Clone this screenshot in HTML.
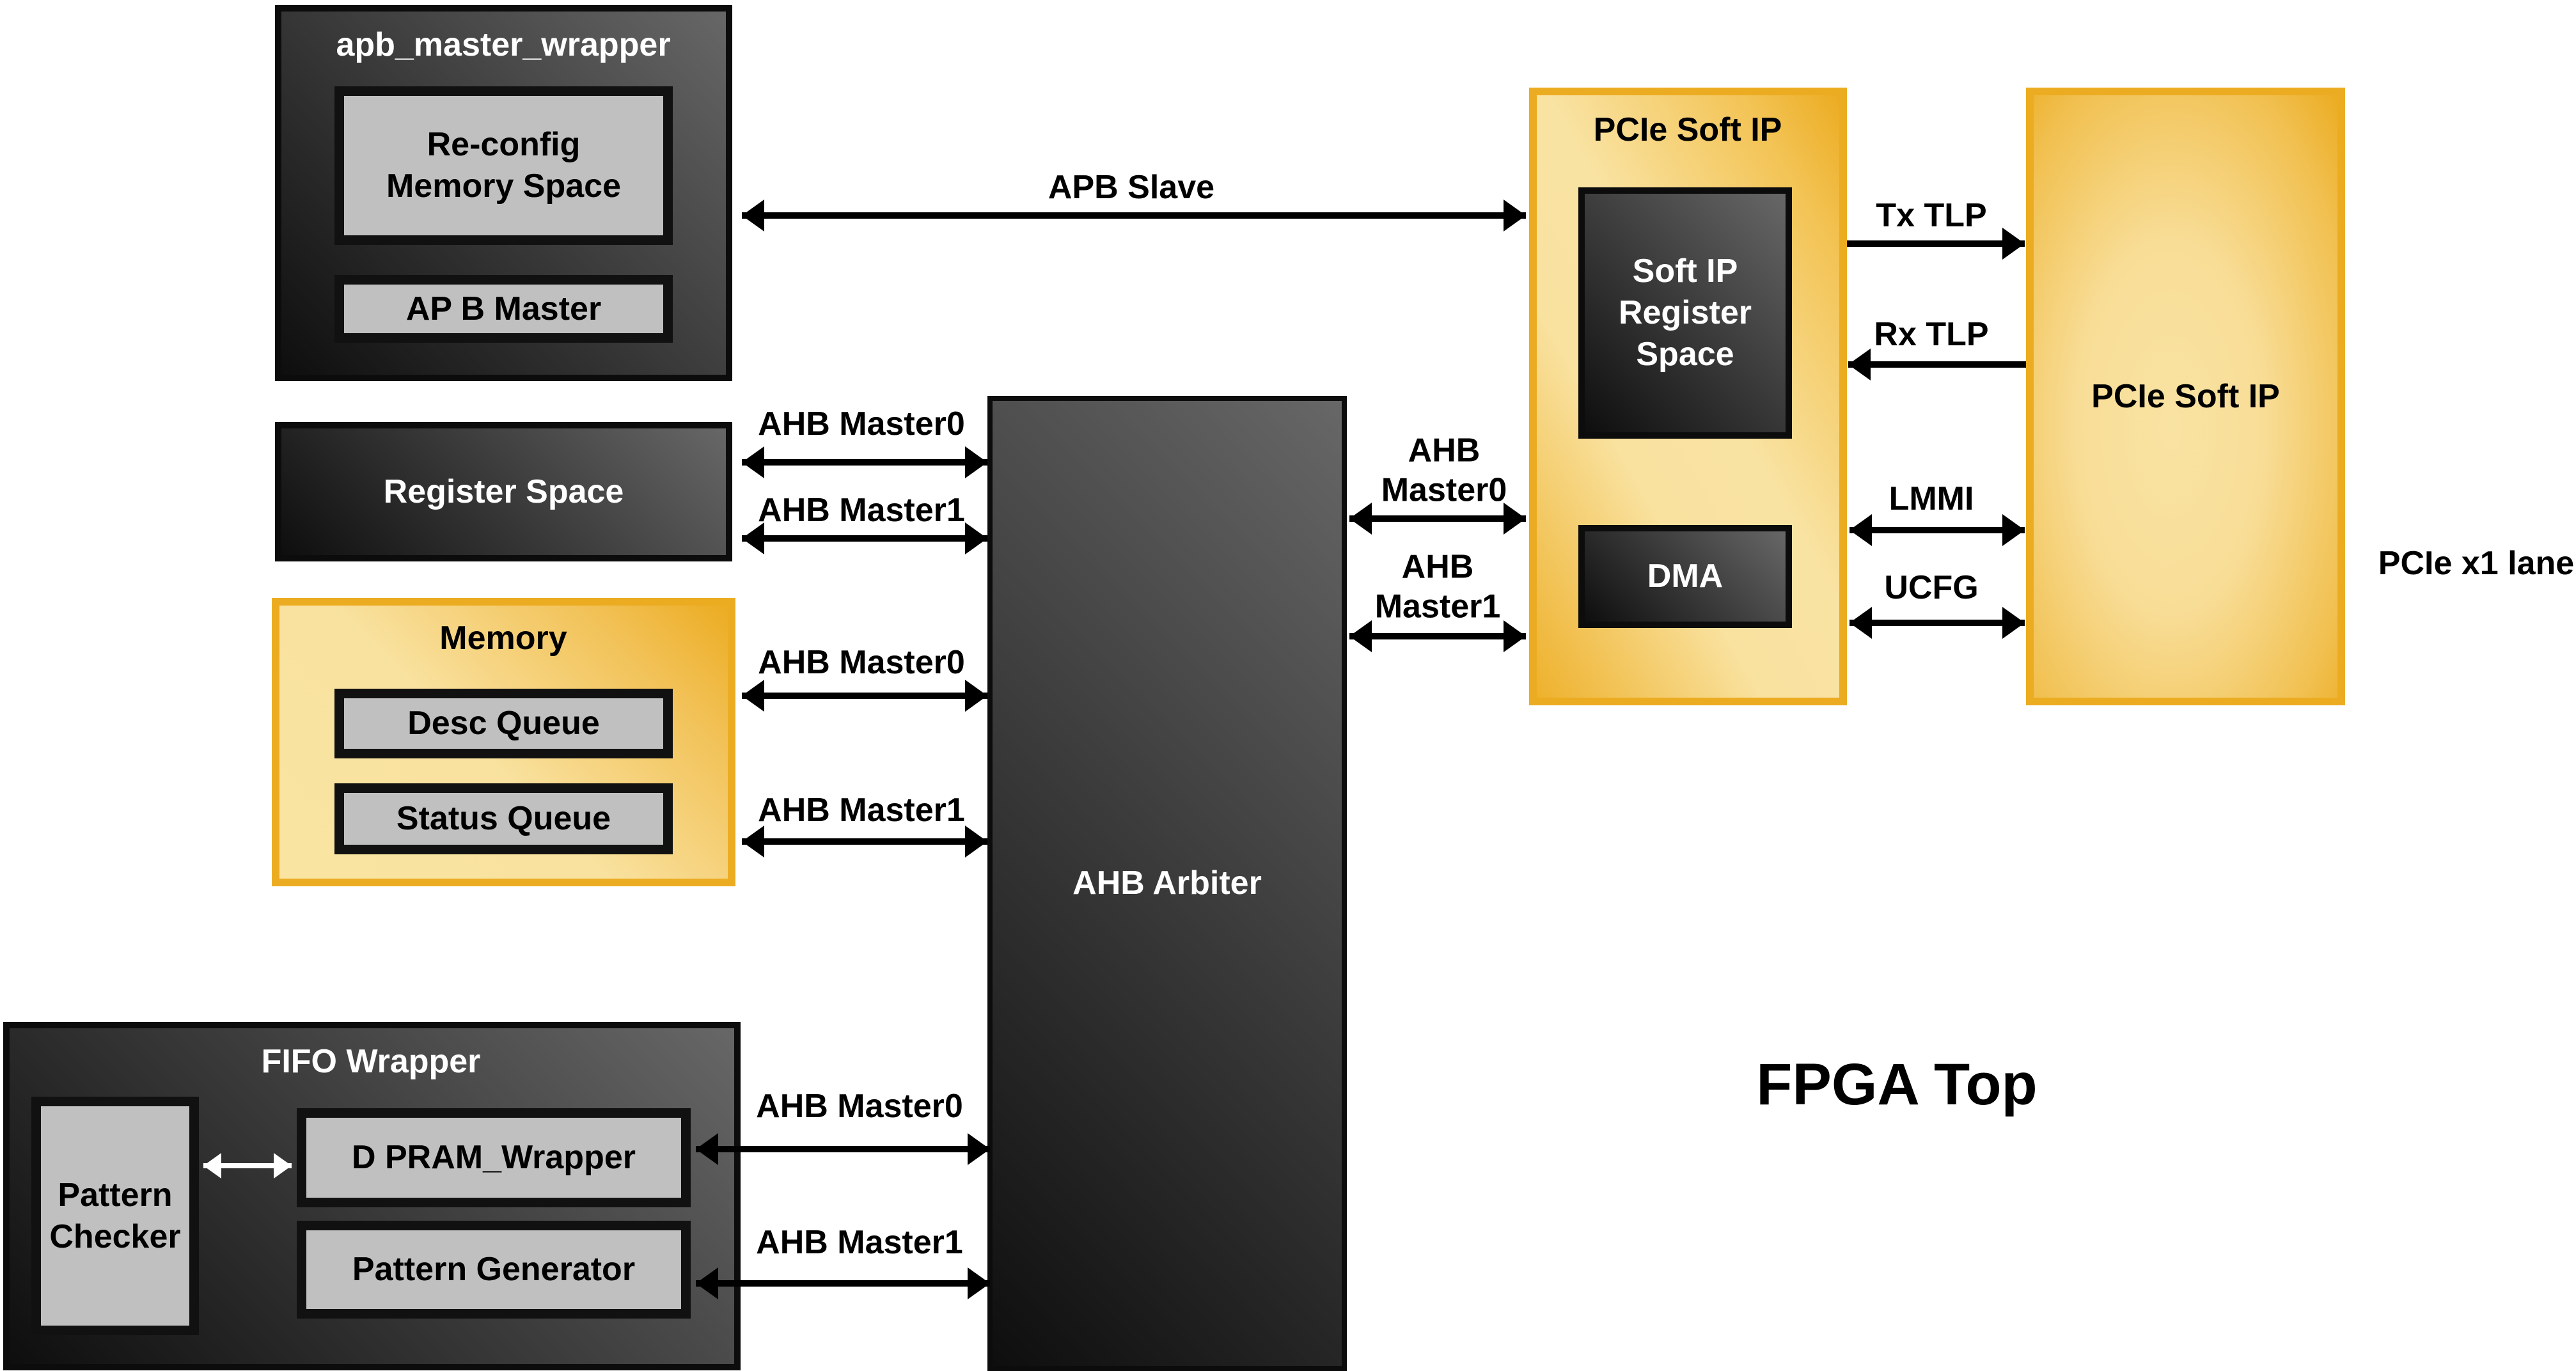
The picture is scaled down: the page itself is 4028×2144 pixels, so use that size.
<!DOCTYPE html>
<html><head><meta charset="utf-8"><style>
html,body{margin:0;padding:0;background:#fff;}
body{width:4028px;height:2131px;position:relative;overflow:hidden;font-family:"Liberation Sans",Arial,sans-serif;font-weight:bold;}
.b{position:absolute;box-sizing:border-box;}
.dark{background:linear-gradient(45deg,#0e0e0e 0%,#3a3a3a 50%,#676767 100%);border:10px solid #0c0c0c;color:#fff;}
.gray{background:#c0c0c0;border:15px solid #111;color:#000;}
.gold{border:12px solid #ecac22;}
.t{position:absolute;white-space:nowrap;transform:translate(-50%,-50%);font-size:52px;line-height:1.2;text-align:center;}
.c{display:flex;align-items:center;justify-content:center;text-align:center;font-size:52px;line-height:1.25;}
</style></head><body>

<!-- apb_master_wrapper -->
<div class="b dark" style="left:430px;top:8px;width:715px;height:588px;"></div>
<div class="t" style="left:787px;top:70px;color:#fff;">apb_master_wrapper</div>
<div class="b gray c" style="left:523px;top:135px;width:529px;height:248px;">Re-config<br>Memory Space</div>
<div class="b gray c" style="left:523px;top:430px;width:529px;height:106px;">AP B Master</div>

<!-- Register Space -->
<div class="b dark c" style="left:430px;top:660px;width:715px;height:218px;">Register Space</div>

<!-- Memory -->
<div class="b gold" style="left:425px;top:935px;width:725px;height:451px;background:linear-gradient(45deg,#f9e4a2 0%,#f9e2a0 45%,#f2c258 80%,#ecac22 100%);"></div>
<div class="t" style="left:787px;top:998px;">Memory</div>
<div class="b gray c" style="left:523px;top:1077px;width:529px;height:109px;">Desc Queue</div>
<div class="b gray c" style="left:523px;top:1225px;width:529px;height:111px;">Status Queue</div>

<!-- FIFO Wrapper -->
<div class="b dark" style="left:5px;top:1598px;width:1153px;height:545px;"></div>
<div class="t" style="left:580px;top:1660px;color:#fff;">FIFO Wrapper</div>
<div class="b gray c" style="left:49px;top:1715px;width:262px;height:373px;">Pattern<br>Checker</div>
<div class="b gray c" style="left:464px;top:1733px;width:616px;height:155px;">D PRAM_Wrapper</div>
<div class="b gray c" style="left:464px;top:1909px;width:616px;height:153px;">Pattern Generator</div>

<!-- AHB Arbiter -->
<div class="b dark c" style="left:1544px;top:619px;width:562px;height:1525px;border-width:8px;">AHB Arbiter</div>

<!-- PCIe Soft IP left -->
<div class="b gold" style="left:2391px;top:137px;width:497px;height:966px;background:linear-gradient(60deg,#eeb12c 0%,#f9e2a0 35%,#f9e3a3 55%,#f3c456 85%,#ecac22 100%);"></div>
<div class="t" style="left:2639px;top:203px;">PCIe Soft IP</div>
<div class="b dark c" style="left:2468px;top:293px;width:334px;height:393px;">Soft IP<br>Register<br>Space</div>
<div class="b dark c" style="left:2468px;top:821px;width:334px;height:161px;">DMA</div>

<!-- PCIe Soft IP right -->
<div class="b gold c" style="left:3168px;top:137px;width:499px;height:966px;background:radial-gradient(ellipse at 45% 55%,#f9e3a3 0%,#f8dd96 40%,#f1c050 80%,#ecac22 100%);">PCIe Soft IP</div>

<div class="t" style="left:3872px;top:881px;">PCIe x1 lane</div>
<div class="t" style="left:2966px;top:1696px;font-size:92px;">FPGA Top</div>

<!-- labels -->
<div class="t" style="left:1769px;top:293px;">APB Slave</div>
<div class="t" style="left:1347px;top:663px;">AHB Master0</div>
<div class="t" style="left:1347px;top:798px;">AHB Master1</div>
<div class="t" style="left:1347px;top:1036px;">AHB Master0</div>
<div class="t" style="left:1347px;top:1267px;">AHB Master1</div>
<div class="t" style="left:1344px;top:1730px;">AHB Master0</div>
<div class="t" style="left:1344px;top:1943px;">AHB Master1</div>
<div class="t" style="left:2258px;top:736px;">AHB<br>Master0</div>
<div class="t" style="left:2248px;top:918px;">AHB<br>Master1</div>
<div class="t" style="left:3020px;top:337px;">Tx TLP</div>
<div class="t" style="left:3020px;top:523px;">Rx TLP</div>
<div class="t" style="left:3020px;top:780px;">LMMI</div>
<div class="t" style="left:3020px;top:919px;">UCFG</div>

<svg width="4028" height="2131" style="position:absolute;left:0;top:0;" xmlns="http://www.w3.org/2000/svg">
<defs>
<marker id="a" markerWidth="4" markerHeight="5" refX="3.5" refY="2.5" orient="auto-start-reverse" markerUnits="strokeWidth"><path d="M0,0 L3.5,2.5 L0,5 Z" fill="#000"/></marker>
<marker id="w" markerWidth="4" markerHeight="5" refX="3.5" refY="2.5" orient="auto-start-reverse" markerUnits="strokeWidth"><path d="M0,0 L3.5,2.5 L0,5 Z" fill="#fff"/></marker>
</defs>
<g stroke="#000" stroke-width="10" fill="none">
<line x1="1160" y1="337" x2="2386" y2="337" marker-start="url(#a)" marker-end="url(#a)"/>
<line x1="1160" y1="723" x2="1544" y2="723" marker-start="url(#a)" marker-end="url(#a)"/>
<line x1="1160" y1="842" x2="1544" y2="842" marker-start="url(#a)" marker-end="url(#a)"/>
<line x1="1160" y1="1088" x2="1544" y2="1088" marker-start="url(#a)" marker-end="url(#a)"/>
<line x1="1160" y1="1316" x2="1544" y2="1316" marker-start="url(#a)" marker-end="url(#a)"/>
<line x1="1088" y1="1797" x2="1548" y2="1797" marker-start="url(#a)" marker-end="url(#a)"/>
<line x1="1088" y1="2007" x2="1548" y2="2007" marker-start="url(#a)" marker-end="url(#a)"/>
<line x1="2110" y1="811" x2="2386" y2="811" marker-start="url(#a)" marker-end="url(#a)"/>
<line x1="2110" y1="995" x2="2386" y2="995" marker-start="url(#a)" marker-end="url(#a)"/>
<line x1="2888" y1="381" x2="3166" y2="381" marker-end="url(#a)"/>
<line x1="3168" y1="570" x2="2890" y2="570" marker-end="url(#a)"/>
<line x1="2892" y1="829" x2="3166" y2="829" marker-start="url(#a)" marker-end="url(#a)"/>
<line x1="2892" y1="974" x2="3166" y2="974" marker-start="url(#a)" marker-end="url(#a)"/>
</g>
<line x1="318" y1="1823" x2="456" y2="1823" stroke="#fff" stroke-width="8" marker-start="url(#w)" marker-end="url(#w)"/>
</svg>
</body></html>
